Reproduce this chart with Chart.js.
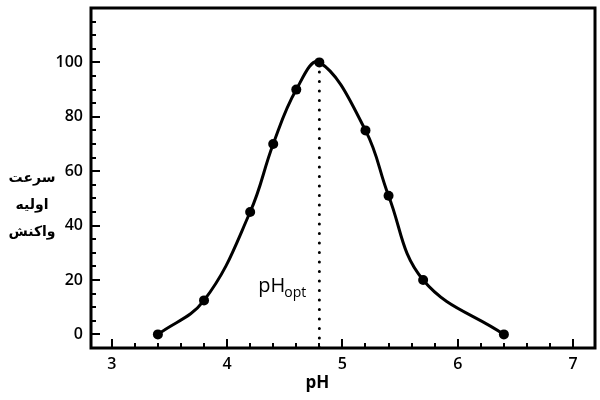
<!DOCTYPE html>
<html>
<head>
<meta charset="utf-8">
<script src="https://cdn.jsdelivr.net/npm/chart.js@4.4.1/dist/chart.umd.min.js"></script>
<style>
  html, body { margin: 0; padding: 0; background: #fff; }
  #wrap { width: 600px; height: 400px; }
</style>
</head>
<body>
<div id="wrap"><canvas id="phChart" width="600" height="400"></canvas></div>
<script>
// measured points (pH, initial rate)
const phValues = [3.4, 3.8, 4.2, 4.4, 4.6, 4.8, 5.2, 5.4, 5.7, 6.4];
const rateValues = [0, 12.5, 45, 70, 90, 100, 75, 51, 20, 0];
const optimumPh = 4.8;
const xTickLabels = [3, 4, 5, 6, 7];
const yTickLabels = [0, 20, 40, 60, 80, 100];
const yTitleLines = ['سرعت', 'اولیه', 'واکنش'];

const tickFont = { family: '"Open Sans", "DejaVu Sans", sans-serif', size: 16, weight: '600' };

// inward tick marks + thick frame + free text labels
const framePlugin = {
  id: 'frame',
  afterDatasetsDraw(chart) {
    const { ctx, chartArea: a, scales: { x, y } } = chart;
    ctx.save();
    ctx.strokeStyle = '#000';
    ctx.lineWidth = 2;
    ctx.beginPath();
    for (let v = 3; v <= 7.001; v += 0.2) {
      const px = Math.round(x.getPixelForValue(v));
      const major = Math.abs(v - Math.round(v)) < 0.01;
      ctx.moveTo(px, a.bottom);
      ctx.lineTo(px, a.bottom - (major ? 9 : 5));
    }
    for (let v = 0; v <= 115; v += 5) {
      const py = Math.round(y.getPixelForValue(v));
      const major = v % 20 === 0;
      ctx.moveTo(a.left, py);
      ctx.lineTo(a.left + (major ? 9 : 5), py);
    }
    ctx.stroke();
    ctx.lineWidth = 3;
    ctx.strokeRect(a.left, a.top, a.right - a.left, a.bottom - a.top);
    ctx.restore();
  },
  afterDraw(chart) {
    const { ctx, scales: { x } } = chart;
    ctx.save();
    ctx.fillStyle = '#000';
    // x title
    ctx.font = 'bold 17px "Open Sans", "DejaVu Sans", sans-serif';
    ctx.textAlign = 'center';
    ctx.textBaseline = 'middle';
    ctx.fillText('pH', x.getPixelForValue(optimumPh) - 2, 383);
    // y title (three stacked lines)
    ctx.font = 'bold 14px "DejaVu Sans", sans-serif';
    yTitleLines.forEach((t, i) => ctx.fillText(t, 32, 178 + i * 27));
    // pH_opt label
    const px = x.getPixelForValue(optimumPh);
    ctx.textAlign = 'left';
    ctx.textBaseline = 'alphabetic';
    ctx.font = '500 20px "Open Sans", sans-serif';
    ctx.fillText('pH', px - 61, 292);
    ctx.font = '500 14px "Open Sans", sans-serif';
    ctx.fillText('opt', px - 35, 297);
    ctx.restore();
  }
};

new Chart(document.getElementById('phChart'), {
  type: 'line',
  data: {
    datasets: [
      {
        data: phValues.map((v, i) => ({ x: v, y: rateValues[i] })),
        borderColor: '#000',
        backgroundColor: '#000',
        borderWidth: 3,
        pointRadius: 5,
        pointBorderWidth: 0,
        tension: 0.4,
        fill: false
      },
      {
        data: [{ x: optimumPh, y: 100 }, { x: optimumPh, y: -5 }],
        borderColor: '#000',
        borderWidth: 3,
        borderDash: [0.1, 9.4],
        borderCapStyle: 'round',
        pointRadius: 0,
        fill: false
      }
    ]
  },
  options: {
    responsive: false,
    animation: false,
    layout: { padding: { top: 8, right: 2, left: 0, bottom: 0 } },
    plugins: { legend: { display: false }, tooltip: { enabled: false } },
    scales: {
      x: {
        type: 'linear',
        min: 2.82,
        max: 7.19,
        grid: { display: false, drawTicks: false },
        border: { display: false },
        afterBuildTicks: s => { s.ticks = xTickLabels.map(v => ({ value: v })); },
        afterFit: s => { s.height = 52; s.paddingLeft = 0; s.paddingRight = 0; },
        ticks: { color: '#000', font: tickFont, padding: 7, maxRotation: 0 }
      },
      y: {
        min: -5,
        max: 120,
        grid: { display: false, drawTicks: false },
        border: { display: false },
        afterBuildTicks: s => { s.ticks = yTickLabels.map(v => ({ value: v })); },
        afterFit: s => { s.width = 91; s.paddingTop = 0; s.paddingBottom = 0; },
        ticks: { color: '#000', font: tickFont, padding: 8 }
      }
    }
  },
  plugins: [framePlugin]
});
</script>
</body>
</html>
